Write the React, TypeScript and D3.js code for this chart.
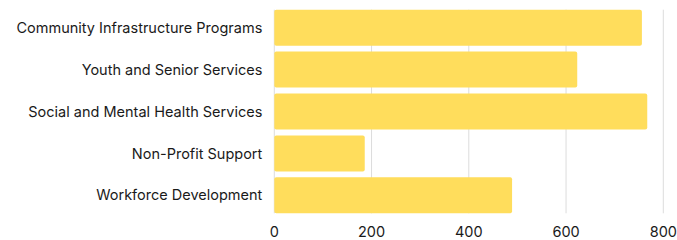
import React from 'react';
import { scaleBand, scaleLinear } from 'd3';

const categories = [
  'Community Infrastructure Programs',
  'Youth and Senior Services',
  'Social and Mental Health Services',
  'Non-Profit Support',
  'Workforce Development',
];
const values = [756, 623, 767, 186, 489];
const ticks = [0, 200, 400, 600, 800];

const width = 677;
const height = 240;
const margin = { top: 9.7, right: 14, bottom: 26.7, left: 274.3 };
const innerH = height - margin.top - margin.bottom;

const font = 'Inter, sans-serif';

export default function App() {
  const x = scaleLinear().domain([0, 800]).range([0, 389]);
  const y = scaleBand()
    .domain(categories)
    .range([0, innerH])
    .paddingInner(0.14)
    .paddingOuter(0);

  return (
    <svg
      width={width}
      height={height}
      style={{ position: 'absolute', left: 0, top: 0 }}
    >
      <g transform={`translate(${margin.left}, ${margin.top})`}>
        {ticks.map(t => (
          <g key={t} transform={`translate(${x(t)}, 0)`}>
            <line y2={innerH} stroke="#dcdcdc" strokeWidth={1} />
            <text
              y={innerH + 23.5}
              textAnchor="middle"
              fontFamily={font}
              fontSize={14.5}
              fill="#1a1a1a"
            >
              {t}
            </text>
          </g>
        ))}
        {categories.map((c, i) => (
          <rect
            key={c}
            x={0}
            y={y(c)}
            width={x(values[i])}
            height={y.bandwidth()}
            rx={2}
            fill="#FFDD5C"
          />
        ))}
        {categories.map(c => (
          <text
            key={c}
            x={-12}
            y={y(c)! + y.bandwidth() / 2}
            dy="0.36em"
            textAnchor="end"
            fontFamily={font}
            fontSize={14.5}
            fill="#1a1a1a"
          >
            {c}
          </text>
        ))}
      </g>
    </svg>
  );
}
